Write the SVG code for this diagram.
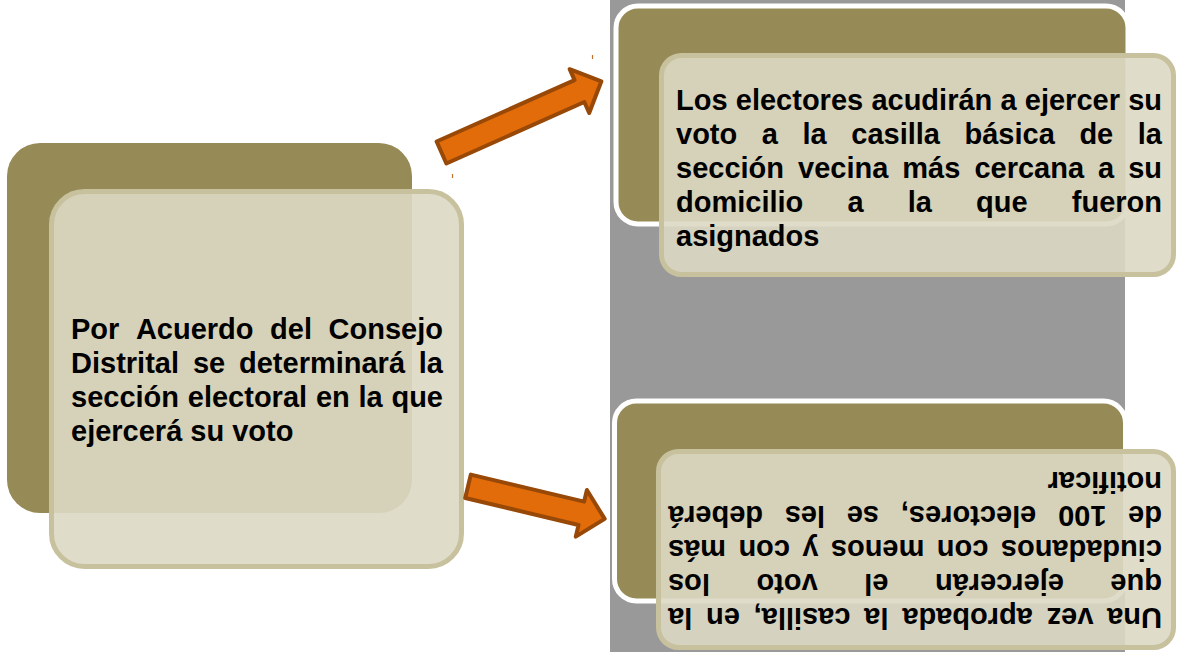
<svg xmlns="http://www.w3.org/2000/svg" width="1177" height="652" viewBox="0 0 1177 652">
<style>
.olive{fill:#968A56;stroke:#FFFFFF;stroke-width:5}
.light{fill:#DDD8C4;fill-opacity:0.9;stroke:#C8C19E;stroke-width:5}
.t{font-family:"Liberation Sans",Arial,sans-serif;font-weight:bold;font-size:29px;fill:#000000}
.e{text-anchor:end}
.arr{fill:#E36C0A;stroke:#984807;stroke-width:4;stroke-linejoin:round}
.tick{stroke:#C0702A;stroke-width:1.2}
</style>
<rect x="0" y="0" width="1177" height="652" fill="#FFFFFF"/>
<rect id="band" x="610" y="0" width="515" height="652" fill="#999999"/>

<g id="node-left">
<rect x="7" y="143" width="405" height="370" rx="33" fill="#968A56"/>
<rect class="light" x="51.5" y="191.5" width="410" height="375" rx="33"/>
<text class="t" y="339"><tspan x="71">Por</tspan><tspan x="135.9">Acuerdo</tspan><tspan x="270.1">del</tspan></text>
<text class="t e" x="443" y="339">Consejo</text>
<text class="t" y="373"><tspan x="71">Distrital</tspan><tspan x="192.9">se</tspan><tspan x="239">determinará</tspan></text>
<text class="t e" x="443" y="373">la</text>
<text class="t" y="407"><tspan x="71">sección</tspan><tspan x="187.8">electoral</tspan><tspan x="315.9">en</tspan><tspan x="358.5">la</tspan></text>
<text class="t e" x="443" y="407">que</text>
<text class="t" x="71" y="441">ejercerá su voto</text>
</g>

<g id="node-top">
<rect class="olive" x="616" y="6" width="512" height="218" rx="22"/>
<rect class="light" x="661.5" y="55.5" width="512" height="219" rx="20"/>
<text class="t" y="110"><tspan x="676">Los</tspan><tspan x="735.8">electores</tspan><tspan x="871.4">acudirán</tspan><tspan x="1000.5">a</tspan><tspan x="1024.8">ejercer</tspan></text>
<text class="t e" x="1162" y="110">su</text>
<text class="t" y="144"><tspan x="676">voto</tspan><tspan x="761.8">a</tspan><tspan x="802.5">la</tspan><tspan x="851.3">casilla</tspan><tspan x="964.5">básica</tspan><tspan x="1079.4">de</tspan></text>
<text class="t e" x="1162" y="144">la</text>
<text class="t" y="178"><tspan x="676">sección</tspan><tspan x="798">vecina</tspan><tspan x="902.3">más</tspan><tspan x="974.4">cercana</tspan><tspan x="1098">a</tspan></text>
<text class="t e" x="1162" y="178">su</text>
<text class="t" y="212"><tspan x="676">domicilio</tspan><tspan x="847.5">a</tspan><tspan x="907.7">la</tspan><tspan x="976.1">que</tspan></text>
<text class="t e" x="1162" y="212">fueron</text>
<text class="t" x="676" y="246">asignados</text>
</g>

<g id="node-bottom">
<rect class="olive" x="614.5" y="401" width="511" height="200" rx="22"/>
<rect class="light" x="658.5" y="451.5" width="515" height="196" rx="20"/>
<g transform="rotate(180 915 540)">
<text class="t" y="472"><tspan x="668">Una</tspan><tspan x="736.6">vez</tspan><tspan x="797.2">aprobada</tspan><tspan x="941.6">la</tspan><tspan x="979.6">casilla,</tspan><tspan x="1090.1">en</tspan></text>
<text class="t e" x="1162" y="472">la</text>
<text class="t" y="506"><tspan x="668">que</tspan><tspan x="766.1">ejercerán</tspan><tspan x="941.6">el</tspan><tspan x="1012.3">voto</tspan></text>
<text class="t e" x="1162" y="506">los</text>
<text class="t" y="540"><tspan x="668">ciudadanos</tspan><tspan x="841.6">con</tspan><tspan x="905.6">menos</tspan><tspan x="1011.4">y</tspan><tspan x="1040">con</tspan></text>
<text class="t e" x="1162" y="540">más</text>
<text class="t" y="574"><tspan x="668">de</tspan><tspan x="723.6">100</tspan><tspan x="793.7">electores,</tspan><tspan x="950.9">se</tspan><tspan x="1004.9">les</tspan></text>
<text class="t e" x="1162" y="574">deberá</text>
<text class="t" x="668" y="608">notificar</text>
</g>
</g>

<g id="connectors">
<path class="arr" transform="translate(441.5 152.5) rotate(-24)" d="M0,-12 L151,-12 L151,-24 L175,0 L151,24 L151,12 L0,12 Z"/>
<path class="arr" transform="translate(468 486.3) rotate(13.4)" d="M0,-12 L116.5,-12 L116.5,-24 L140.5,0 L116.5,24 L116.5,12 L0,12 Z"/>
<line class="tick" x1="592.5" y1="55" x2="592.5" y2="59"/>
<line class="tick" x1="452.5" y1="174" x2="452.5" y2="178"/>
</g>
</svg>
